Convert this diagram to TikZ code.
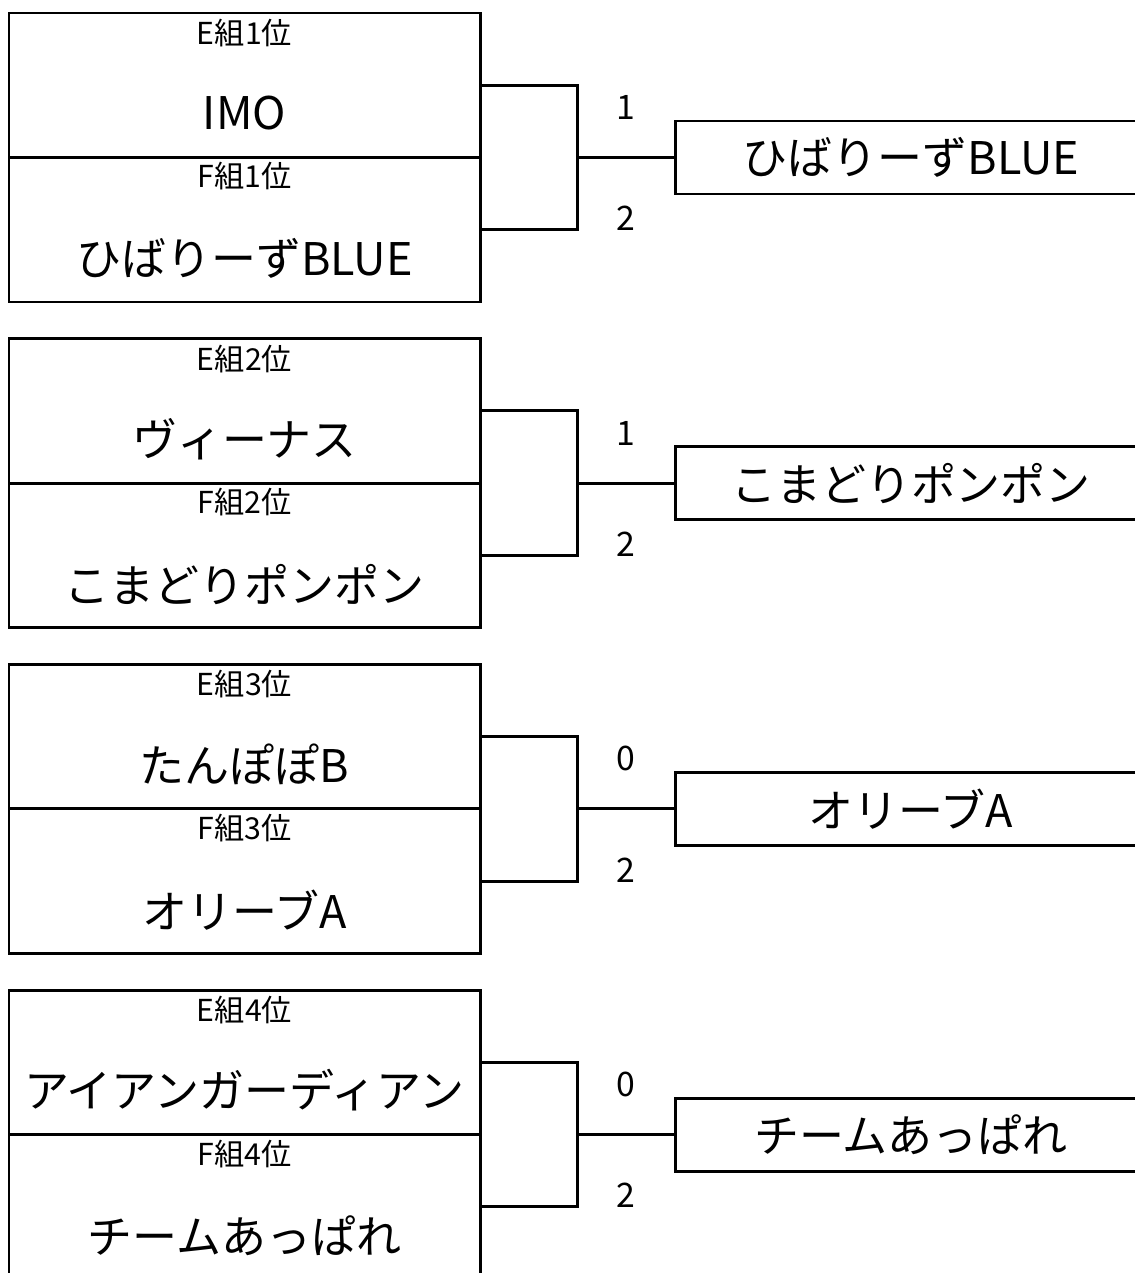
\documentclass[tikz,border=0pt]{standalone}
\usepackage{fontspec}
\newfontfamily\jp{Noto Sans CJK JP}
\usetikzlibrary{positioning}
\tikzset{
  teambox/.style={draw, line width=0.85pt, minimum width=4.71cm, minimum height=1.445cm, inner sep=0pt, outer sep=0pt},
  teamname/.style={font=\jp\fontsize{12.8}{14}\selectfont, inner sep=0pt},
  grouplabel/.style={font=\jp\fontsize{8.6}{10}\selectfont, inner sep=0pt},
  resultbox/.style={draw, line width=0.85pt, minimum width=4.72cm, minimum height=0.73cm, inner sep=0pt, outer sep=0pt, font=\jp\fontsize{12.8}{14}\selectfont},
  score/.style={font=\jp\fontsize{9.6}{11}\selectfont, inner sep=0pt},
  bracket/.style={line width=0.85pt}
}
\begin{document}
\begin{tikzpicture}[y=-1cm]
  %%%%% START %%%%%
  \useasboundingbox (0,0) rectangle (11.35,12.73);
  \clip (0,0) rectangle (11.35,12.73);

  \foreach \i/\en/\fn/\es/\fs/\win in {
      1/IMO/ひばりーずBLUE/1/2/ひばりーずBLUE,
      2/ヴィーナス/こまどりポンポン/1/2/こまどりポンポン,
      3/たんぽぽB/オリーブA/0/2/オリーブA,
      4/アイアンガーディアン/チームあっぱれ/0/2/チームあっぱれ}{
    \pgfmathsetmacro\ytop{0.13+3.257*(\i-1)}

    % E and F teams
    \node[teambox, anchor=north west] (e\i) at (0.09,\ytop) {};
    \node[teambox, below=0pt of e\i] (f\i) {};
    \node[grouplabel] (le\i) at ([yshift=-0.2cm]e\i.north) {E組{\i}位};
    \node[teamname] (ne\i) at ([yshift=-0.28cm]e\i.center) {\en};
    \node[grouplabel] (lf\i) at ([yshift=-0.19cm]f\i.north) {F組{\i}位};
    \node[teamname] (nf\i) at ([yshift=-0.29cm]f\i.center) {\fn};

    % bracket and winner
    \coordinate (j\i) at ([xshift=0.97cm]e\i.south east);
    \draw[bracket] (e\i.east) -| (j\i) |- (f\i.east);
    \node[resultbox, right=0.98cm of j\i] (w\i) {\win};
    \draw[bracket] (j\i) -- (w\i.west);
    \node[score] (se\i) at ([xshift=0.49cm,yshift=0.5cm]j\i) {\es};
    \node[score] (sf\i) at ([xshift=0.49cm,yshift=-0.61cm]j\i) {\fs};
  }
  %%%%% END %%%%%
\end{tikzpicture}
\end{document}
